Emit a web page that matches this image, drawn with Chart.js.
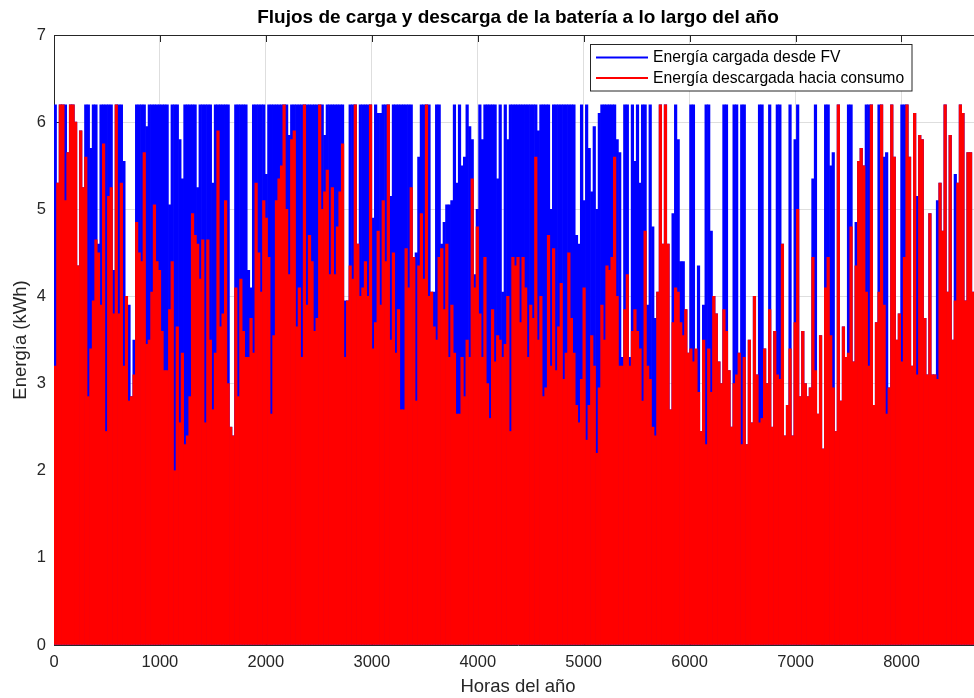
<!DOCTYPE html>
<html>
<head>
<meta charset="utf-8">
<script src="https://cdn.jsdelivr.net/npm/chart.js@4.4.1/dist/chart.umd.min.js"></script>
<style>
  html, body { margin: 0; padding: 0; background: #ffffff; overflow: hidden; }
  #wrap { position: relative; width: 1000px; height: 698px; }
</style>
</head>
<body>
<div id="wrap"><canvas id="chart"></canvas></div>
<script>
// ---------- data ----------
const chartTitle = 'Flujos de carga y descarga de la batería a lo largo del año';
const xAxisTitle = 'Horas del año';
const yAxisTitle = 'Energía (kWh)';
const seriesLabels = ['Energía cargada desde FV', 'Energía descargada hacia consumo'];
const hoursInYear = 8760;
const xTickValues = [0, 1000, 2000, 3000, 4000, 5000, 6000, 7000, 8000];
const yTickValues = [0, 1, 2, 3, 4, 5, 6, 7];

// daily peak of the hourly energy charged from PV (kWh), one value per day
const chargedDailyPeak = [
  6.2,5.3,6.2,6.2,6.2, 5.65,6.2,6.2,6.0,4.35, 5.9,5.25,6.2,6.2,5.7, 6.2,6.2,4.6,6.2,6.2,
  6.2,6.2,6.2,4.3,6.2, 6.2,6.2,5.55,3.9,3.9, 2.85,3.5,6.2,6.2,6.2, 6.2,5.95,6.2,6.2,6.2, 6.2,
  6.2,6.2,6.2,6.2,5.05, 6.2,6.2,6.2,5.8,5.35, 6.2,6.2,6.2,6.2,6.2, 5.25,6.2,6.2,6.2,6.2,
  6.2,5.3,6.2,6.2,6.2, 6.2,6.2,6.2,2.5,2.4, 6.2,6.2,6.2,6.2,6.2, 4.3,4.1,6.2,6.2,6.2, 6.2,6.2,5.4,
  6.2, 6.2,6.2,6.2,6.2,6.2, 6.2,6.2,5.85,6.2,6.2, 6.2,6.2,6.2,6.2,6.2, 6.2,6.2,6.2,6.2,6.2,
  6.2,5.85,6.2,6.2,6.2, 6.2,6.2,6.2,6.2,3.95, 3.95,6.2,6.2,6.2,4.6, 6.2,6.2,6.2,6.2,
  6.2,4.9,6.2,6.1,6.1, 6.2,6.2,6.2,5.15,6.2, 6.2,6.2,6.2,6.2,6.2, 6.2,6.2,4.45,4.5,5.6,
  6.2,6.2,6.2,6.2,4.05, 4.05,6.2,6.2,4.6,4.85, 5.05,5.05,5.1,6.2,5.3, 6.2,5.5,5.6,6.2,5.95, 5.8,4.25,5.0,
  6.2,5.8,6.2,6.2,6.2, 6.2,6.2,5.35,6.2,4.05, 6.2,5.8,6.2,6.2,6.2, 6.2,6.2,6.2,6.2,6.2,
  6.2,6.2,6.2,5.9,6.2, 6.2,6.2,6.2,5.0,6.2, 6.2,6.2,6.2,6.2,6.2, 6.2,6.2,6.2,4.7,4.6, 6.2,5.1,6.2,
  5.7,5.2,5.95,5.0,6.1, 6.2,6.2,6.2,6.2,6.2, 6.2,5.8,5.65,3.3,6.2, 6.2,3.3,6.2,5.55,6.2,
  5.3,6.2,6.2,3.9,6.2, 4.8,3.75,4.05,6.2,4.6, 6.2,4.6,2.7,4.95,6.2, 5.8,4.4,4.4,3.85,3.35, 6.2,6.2,3.0,4.35,
  2.45,3.9,6.2,6.2,
  4.75,4.0,3.8,3.25,3.0, 6.2,6.2,3.15,2.5,6.2, 6.2,3.35,6.2,6.2,2.3, 3.5,2.55,4.0,3.1,6.2,
  6.2,3.4,3.0,6.2,2.5, 3.6,6.2,6.2,4.6,2.4, 2.75,6.2,2.4,5.8,6.2, 2.85,3.6,3.0,2.85,
  2.95,5.35,6.2,2.65,3.55, 2.25,6.2,6.2,5.5,5.65, 2.45,6.2,2.8,3.65,3.3, 6.2,6.2,3.25,4.85,5.55,
  5.7,5.5,6.2,6.2,6.2, 2.75,3.7,6.2,6.2,5.6, 5.65,2.95,6.2,5.6,3.5, 3.8,6.2,6.2,6.2,5.6,
  3.2,6.1,5.15,5.85,5.8, 3.75,3.1,4.95,3.1,3.1, 5.1,5.3,4.75,6.2,4.05, 5.85,3.5,5.4,5.3,6.2,
  6.1,3.95,5.65,5.65,4.05, 5.1,4.6,3.9
];

// daily peak of the hourly energy discharged to the load (kWh), one value per day
const dischargedDailyPeak = [
  3.2,5.3,6.2,6.2,5.1, 5.65,6.2,6.2,6.0,4.35, 5.9,5.25,5.6,2.85,3.4, 3.95,4.65,4.5,3.9,5.75,
  2.45,5.15,5.25,3.8,6.2, 3.8,5.3,3.2,4.0,2.8, 2.85,3.1,4.85,4.5,4.4, 5.65,3.45,3.5,4.05,5.05, 4.4,
  4.3,3.6,3.15,3.15,3.85, 4.4,2.0,3.65,2.55,3.35, 2.3,2.4,2.85,4.95,4.7, 4.6,4.2,4.65,2.55,4.65,
  3.5,2.7,3.35,5.9,3.65, 3.8,5.1,3.0,2.5,2.4, 4.1,2.85,4.2,3.6,3.3, 3.3,3.75,3.35,5.3,4.5, 4.05,5.1,4.9,
  4.45, 2.65,3.55,5.1,5.35,5.5, 6.2,5.0,4.25,5.8,5.9, 3.65,4.1,3.3,6.2,3.9, 4.7,4.4,3.6,3.75,6.2,
  5.0,5.2,5.45,4.25,5.25, 4.25,4.8,5.2,5.75,3.3, 3.95,4.35,4.2,6.2,4.6, 4.0,4.1,4.4,4.0,
  6.2,3.4,3.7,4.75,3.9, 5.1,4.4,6.2,3.5,4.5, 3.35,3.85,2.7,2.7,4.55, 4.1,5.25,4.45,2.8,4.35,
  4.95,4.2,6.2,4.0,4.05, 3.65,3.5,4.45,4.55,3.85, 4.6,3.3,3.9,3.35,2.65, 2.65,3.3,2.85,3.5,3.3, 5.35,4.1,4.8,
  3.8,3.3,4.45,3.0,2.6, 3.85,3.25,3.55,3.5,3.3, 3.45,4.0,2.45,4.45,4.35, 4.45,3.7,4.45,4.1,3.3,
  3.9,3.75,5.6,3.5,4.0, 2.85,2.95,4.7,3.2,4.55, 3.15,3.65,4.15,3.05,3.35, 4.5,3.75,3.35,2.75,2.55, 3.05,4.1,2.35,
  2.75,3.55,3.2,2.2,2.95, 3.9,3.5,4.35,4.3,4.45, 5.6,4.0,3.2,3.2,3.85, 4.25,3.2,3.6,3.85,3.6,
  3.4,2.8,4.75,3.2,3.05, 2.5,2.4,4.05,6.2,4.6, 6.2,4.6,2.7,3.7,4.1, 4.05,3.7,3.55,3.85,3.35, 3.4,3.25,3.4,2.9,
  2.45,3.5,2.3,3.4,
  2.9,4.0,3.8,3.25,3.0, 3.85,3.6,3.15,2.5,3.0, 3.1,3.35,2.3,3.3,2.3, 3.5,2.55,4.0,3.1,2.55,
  2.6,3.4,3.0,3.85,2.5, 3.6,3.1,3.05,4.6,2.4, 2.75,3.4,2.4,3.7,5.0, 2.85,3.6,3.0,2.85,
  2.95,4.45,3.15,2.65,3.55, 2.25,4.1,4.45,3.55,2.95, 2.45,6.2,2.8,3.65,3.3, 3.35,4.8,3.25,4.35,5.55,
  5.7,5.5,4.05,3.2,6.2, 2.75,3.7,4.05,6.2,3.9, 2.65,2.95,6.2,5.6,3.5, 3.8,3.25,4.45,6.2,5.6,
  3.2,6.1,3.1,5.85,5.8, 3.75,3.1,4.95,3.1,3.1, 3.05,5.3,4.75,6.2,4.05, 5.85,3.5,3.95,5.3,6.2,
  6.1,3.95,5.65,5.65,4.05, 5.1,4.6,3.9
];

// day numbers used as the (hidden) day scale for the columns
const dayNumbers = chargedDailyPeak.map((_, i) => i + 1);

// ---------- styling ----------
const FONT = "'Liberation Sans', Arial, Helvetica, sans-serif";
const AXIS_COLOR = '#262626';
const GRID_COLOR = '#dedede';
const BLUE = '#0000ff';
const RED = '#ff0000';

const framePlugin = {
  id: 'frame',
  beforeDatasetsDraw(chart) {
    const { ctx, chartArea: a, scales } = chart;
    ctx.save();
    ctx.strokeStyle = AXIS_COLOR;
    ctx.lineWidth = 1;
    ctx.beginPath();
    const top = Math.round(a.top) + 0.5;
    ctx.moveTo(a.left, top); ctx.lineTo(a.right, top);
    const tl = 7;
    scales.x.ticks.forEach(t => {
      const px = Math.round(scales.x.getPixelForValue(t.value)) + 0.5;
      ctx.moveTo(px, a.top); ctx.lineTo(px, a.top + tl);
      ctx.moveTo(px, a.bottom); ctx.lineTo(px, a.bottom - tl);
    });
    scales.y.ticks.forEach(t => {
      const py = Math.round(scales.y.getPixelForValue(t.value)) + 0.5;
      ctx.moveTo(a.left, py); ctx.lineTo(a.left + tl, py);
    });
    ctx.stroke();
    ctx.restore();
  },
  afterDraw(chart) {
    const { ctx, chartArea: a } = chart;
    const entries = seriesLabels.map(lbl => chart.data.datasets.find(d => d.label === lbl));
    const bx = a.left + 536.5, by = a.top + 9.5, bw = 321.5, bh = 46.5;
    ctx.save();
    ctx.fillStyle = '#ffffff';
    ctx.fillRect(bx, by, bw, bh);
    ctx.strokeStyle = AXIS_COLOR;
    ctx.lineWidth = 1;
    ctx.strokeRect(bx, by, bw, bh);
    ctx.font = '15.7px ' + FONT;
    ctx.textBaseline = 'middle';
    ctx.textAlign = 'left';
    entries.forEach((ds, i) => {
      const ly = by + 13 + i * 20.4;
      ctx.strokeStyle = ds.backgroundColor;
      ctx.lineWidth = 2;
      ctx.beginPath();
      ctx.moveTo(bx + 5.5, ly); ctx.lineTo(bx + 57.5, ly);
      ctx.stroke();
      ctx.fillStyle = '#000000';
      ctx.fillText(ds.label, bx + 62.5, ly + 0.5);
    });
    ctx.restore();
  }
};

new Chart(document.getElementById('chart'), {
  type: 'bar',
  data: {
    labels: dayNumbers,
    datasets: [
      {
        label: seriesLabels[1],
        data: dischargedDailyPeak,
        backgroundColor: RED,
        borderWidth: 0,
        grouped: false,
        barPercentage: 1,
        categoryPercentage: 1,
        xAxisID: 'days',
        yAxisID: 'y',
        order: 1
      },
      {
        label: seriesLabels[0],
        data: chargedDailyPeak,
        backgroundColor: BLUE,
        borderWidth: 0,
        grouped: false,
        barPercentage: 1,
        categoryPercentage: 1,
        xAxisID: 'days',
        yAxisID: 'y',
        order: 2
      }
    ]
  },
  options: {
    responsive: true,
    maintainAspectRatio: false,
    animation: false,
    events: [],
    layout: { padding: { left: 0, right: 18, top: 0, bottom: 0 } },
    plugins: {
      legend: { display: false },
      tooltip: { enabled: false },
      title: {
        display: true,
        text: chartTitle,
        fullSize: false,
        color: '#000000',
        font: { family: FONT, size: 19, weight: 'bold', lineHeight: 1.2 },
        padding: { top: 6, bottom: 6.2 }
      }
    },
    scales: {
      days: {
        type: 'category',
        axis: 'x',
        position: 'bottom',
        display: false,
        offset: true,
        grid: { offset: true, display: false }
      },
      x: {
        type: 'linear',
        axis: 'x',
        position: 'bottom',
        min: 0,
        max: hoursInYear,
        offset: false,
        afterBuildTicks: s => { s.ticks = xTickValues.map(v => ({ value: v })); },
        afterFit: s => { s.height = 53; },
        grid: { offset: false, color: GRID_COLOR, lineWidth: 1, drawTicks: false },
        border: { display: true, color: AXIS_COLOR, width: 1 },
        ticks: {
          color: AXIS_COLOR,
          padding: 8,
          maxRotation: 0,
          autoSkip: false,
          includeBounds: false,
          font: { family: FONT, size: 16.5 },
          callback: v => String(v)
        },
        title: {
          display: true,
          text: xAxisTitle,
          color: AXIS_COLOR,
          font: { family: FONT, size: 18.5 },
          padding: { top: 0, bottom: 0 }
        }
      },
      y: {
        type: 'linear',
        position: 'left',
        min: 0,
        max: 7,
        afterBuildTicks: s => { s.ticks = yTickValues.map(v => ({ value: v })); },
        afterFit: s => { s.width = 54; },
        grid: { color: GRID_COLOR, lineWidth: 1, drawTicks: false },
        border: { display: true, color: AXIS_COLOR, width: 1 },
        ticks: {
          color: AXIS_COLOR,
          padding: 8,
          font: { family: FONT, size: 16.5 },
          callback: v => String(v)
        },
        title: {
          display: true,
          text: yAxisTitle,
          color: AXIS_COLOR,
          font: { family: FONT, size: 18.5 },
          padding: { top: 10, bottom: 0 }
        }
      }
    }
  },
  plugins: [framePlugin]
});
</script>
</body>
</html>
